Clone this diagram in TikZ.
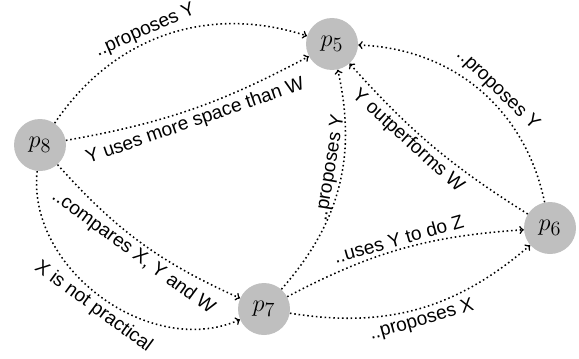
\documentclass[tikz,border=0pt]{standalone}
\usepackage{fontspec}
\setmainfont{Liberation Sans}
\begin{document}
\begin{tikzpicture}[
    paper/.style={circle, fill=gray!50, minimum size=1.3cm, inner sep=0pt, font=\fontsize{19}{20}\selectfont},
    cites/.style={->, dotted, line width=1.1pt},
    lbl/.style={sloped, inner sep=2pt, font=\fontsize{13.6}{15}\selectfont}
]
    \useasboundingbox (0,0) rectangle (14.475,-8.95);
    % papers
    \node[paper] (p8) at (1.0,-3.625) {$p_8$};
    \node[paper] (p5) at (8.3,-1.1) {$p_5$};
    \node[paper] (p6) at (13.75,-5.7) {$p_6$};
    \node[paper] (p7) at (6.6,-7.725) {$p_7$};
    % p8 cites p5
    \draw[cites] (p8) to[bend left=37] node[lbl, above, pos=0.44, inner sep=1.5pt] {..proposes Y} (p5);
    \draw[cites] (p8) to[bend right=9] node[lbl, below] {Y uses more space than W} (p5);
    % p8 cites p7
    \draw[cites] (p8) to[bend right=12] node[lbl, below, pos=0.5] {..compares X, Y and W} (p7);
    \draw[cites] (p8) to[bend right=60] node[lbl, below, pos=0.5] {X is not practical} (p7);
    % p7 cites p5
    \draw[cites] (p7) to[bend right=27] node[lbl, above, pos=0.58] {..proposes Y} (p5);
    % p6 cites p5
    \draw[cites] (p6) to[bend right=38] node[lbl, above, pos=0.45] {..proposes Y} (p5);
    \draw[cites] (p6) to[bend left=8] node[lbl, below, pos=0.6] {Y outperforms W} (p5);
    % p7 cites p6
    \draw[cites] (p7) to[bend left=12] node[lbl, above, pos=0.5] {..uses Y to do Z} (p6);
    \draw[cites] (p7) to[bend right=25] node[lbl, below, pos=0.5] {..proposes X} (p6);
\end{tikzpicture}
\end{document}
